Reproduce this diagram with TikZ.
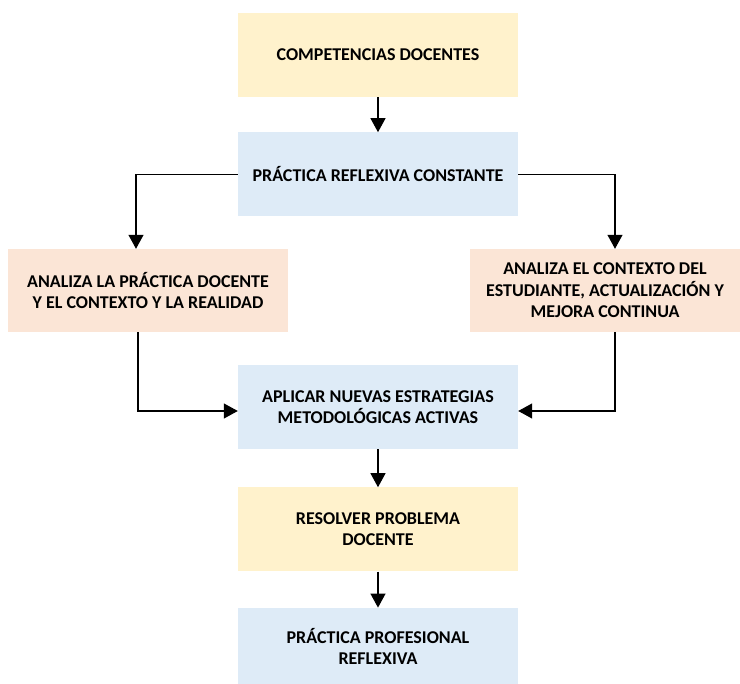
\documentclass[tikz,border=0pt]{standalone}
\usepackage{fontspec}
\setmainfont{Carlito}
\usepackage{tikz}
\usetikzlibrary{positioning,arrows.meta}
\definecolor{boxyellow}{HTML}{FFF2CC}
\definecolor{boxblue}{HTML}{DEEBF7}
\definecolor{boxpeach}{HTML}{FBE5D6}

\begin{document}
\begin{tikzpicture}[x=1pt,y=1pt,
  mybox/.style={minimum width=280pt,minimum height=84pt,align=center,inner sep=2pt,font=\fontsize{18}{21.5}\selectfont\bfseries},
  myboxy/.style={mybox,fill=boxyellow},
  myboxb/.style={mybox,fill=boxblue},
  myboxp/.style={mybox,fill=boxpeach},
  myarrow/.style={draw,line width=1.1pt,-{Triangle[length=14pt,width=15pt]}}
]
\useasboundingbox (0,0) rectangle (740,-684);

\node[myboxy] at (378,-55) (C1) {COMPETENCIAS DOCENTES};
\node[myboxb, below = 35pt of C1] (P1) {PRÁCTICA REFLEXIVA CONSTANTE};

\node[myboxp, minimum height=83pt] at (148,-290.5) (A1) {ANALIZA LA PRÁCTICA DOCENTE\\Y EL CONTEXTO Y LA REALIDAD};
\node[myboxp, minimum height=83pt, minimum width=270pt] at (605,-290.5) (A2) {ANALIZA EL CONTEXTO DEL\\ESTUDIANTE, ACTUALIZACIÓN Y\\MEJORA CONTINUA};

\node[myboxb] at (378,-407) (M1) {APLICAR NUEVAS ESTRATEGIAS\\METODOLÓGICAS ACTIVAS};
\node[myboxy, below = 38pt of M1] (R1) {RESOLVER PROBLEMA\\DOCENTE};
\node[myboxb, below = 36pt of R1, minimum height=77pt] (P2) {PRÁCTICA PROFESIONAL\\REFLEXIVA};

\path[myarrow] (C1) -- (P1);
\path[myarrow] (P1.west) -| ([xshift=-12pt]A1.north);
\path[myarrow] (P1.east) -| ([xshift=10pt]A2.north);

\path[myarrow] ([xshift=-10pt]A1.south) |- ([yshift=-4pt]M1.west);
\path[myarrow] ([xshift=10pt]A2.south) |- ([yshift=-4pt]M1.east);

\path[myarrow] (M1) -- (R1);
\path[myarrow] (R1) -- (P2);

\end{tikzpicture}
\end{document}
